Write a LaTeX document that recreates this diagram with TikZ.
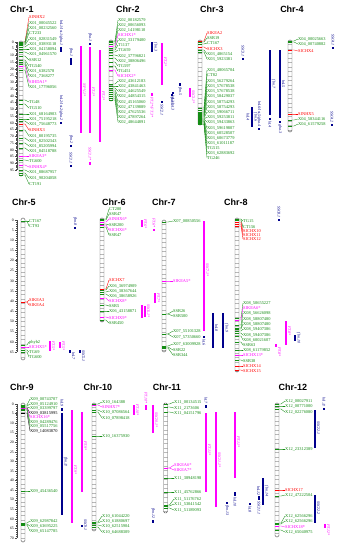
\documentclass[tikz,border=0pt]{standalone}
\usepackage{fontspec}
\setmainfont{Liberation Serif}
\newfontfamily\hfont{Liberation Sans}
\definecolor{gmk}{RGB}{20,140,20}
\definecolor{rmk}{RGB}{255,0,0}
\definecolor{pmk}{RGB}{255,0,255}
\definecolor{bmk}{RGB}{0,0,0}
\definecolor{nv}{RGB}{0,0,140}
\tikzset{
 mk/.style={font=\fontsize{4.4}{4.4}\selectfont, inner sep=0pt, anchor=west},
 ttl/.style={font=\hfont\bfseries\fontsize{9}{9}\selectfont, inner sep=0pt},
 ql/.style={font=\itshape\fontsize{4}{4}\selectfont, inner sep=0pt, rotate=-90},
 qb/.style={line width=1.6pt},
 rl/.style={font=\fontsize{3.8}{3.8}\selectfont, inner sep=0pt, anchor=east},
}
\newcounter{qn}
\newcommand\chrom[3]{%
 \begin{scope}
 \clip[rounded corners=1.5pt] (#1-2,#2) rectangle (#1+2,#3);
 \fill[white] (#1-2,#2) rectangle (#1+2,#3);
 \foreach \k in {1,...,40} \draw[gray!55,line width=0.3pt] (#1-2,{#2+\k*4.5}) -- (#1+2,{#2+\k*4.5});
 \end{scope}
 \draw[gray!70!black,line width=0.45pt,rounded corners=1.5pt] (#1-2,#2) rectangle (#1+2,#3);}
\newcommand\markers[4]{%
 \foreach \ya/\yl/\tx/\cl [count=\i] in {#4} {
  \coordinate (#1a\i) at (#2+2,\ya);
  \coordinate (#1b\i) at (#2+4,\ya);
  \node[mk,text=\cl] (#1l\i) at (#3,\yl) {\tx};
  \draw[\cl,line width=0.35pt] (#2-2,\ya) -- (#1a\i);
  \draw[\cl,line width=0.35pt] (#1a\i) -- (#1b\i) -- (#1l\i.west);
 }}
\newcommand\ruler[5]{%
 \draw[gray!60!black,line width=0.3pt] (#2,#3) -- (#2,{#3+#5*#4});
 \foreach \v in {0,...,#5} \draw[gray!60!black,line width=0.15pt] (#2-1,{#3+\v*#4}) -- (#2,{#3+\v*#4});
 \foreach \v in {0,5,...,#5} {\draw[gray!60!black,line width=0.3pt] (#2-2.5,{#3+\v*#4}) -- (#2,{#3+\v*#4});
  \node[rl] (#1r\v) at (#2-3,{#3+\v*#4}) {\v};}}
% bar + label right
\newcommand\qR[6]{\draw[qb,#4] (#1,#2) -- (#1,#3);\stepcounter{qn}\node[ql,text=#4] (q\theqn) at (#1+3.5,#6) {#5};}
% bar + label above
\newcommand\qA[5]{\draw[qb,#4] (#1,#2) -- (#1,#3);\stepcounter{qn}\node[ql,text=#4,anchor=east] (q\theqn) at (#1,#2-1) {#5};}
% bar + label below
\newcommand\qB[5]{\draw[qb,#4] (#1,#2) -- (#1,#3);\stepcounter{qn}\node[ql,text=#4,anchor=west] (q\theqn) at (#1,#3+1) {#5};}
\newcommand\qlab[4]{\stepcounter{qn}\node[ql,text=#3] (q\theqn) at (#1,#2) {#4};}
\begin{document}
\begin{tikzpicture}[x=1pt,y=-1pt]
\useasboundingbox (0,0) rectangle (340,550);
\fill[white] (0,0) rectangle (340,550);
% titles
\node[ttl] (t1) at (22,9) {Chr-1};
\node[ttl] (t2) at (128,9) {Chr-2};
\node[ttl] (t3) at (212,9) {Chr-3};
\node[ttl] (t4) at (292,9) {Chr-4};
\node[ttl] (t5) at (24,202) {Chr-5};
\node[ttl] (t6) at (114,202) {Chr-6};
\node[ttl] (t7) at (164,202) {Chr-7};
\node[ttl] (t8) at (236,202) {Chr-8};
\node[ttl] (t9) at (22,387) {Chr-9};
\node[ttl] (t10) at (98,387) {Chr-10};
\node[ttl] (t11) at (167,387) {Chr-11};
\node[ttl] (t12) at (293,387) {Chr-12};
% rulers
\ruler{A}{17}{42}{1.347}{95}
\ruler{E}{17}{220}{2.03}{65}
\ruler{I}{17}{404}{1.914}{70}
% chromosomes
\chrom{21}{41}{176}
\chrom{111}{40}{101}
\chrom{200}{40}{125}
\chrom{290}{40}{132}
\chrom{23}{218}{360}
\chrom{102}{218}{322}
\chrom{164}{220}{352}
\chrom{237}{218}{372}
\chrom{23}{403}{542}
\chrom{94}{403}{531}
\chrom{165.5}{403}{513}
\chrom{277}{403}{537}
% markers
\markers{A}{21}{29}{42/17/SINHX2/rmk, 42/23/X01\_00045522/gmk, 43/28/X01\_00232560/gmk, 44/33/CT233/gmk, 45/39/X01\_02831549/gmk, 47/44/X01\_03893118/gmk, 49/49/X01\_04158094/gmk, 52/54/X01\_04961570/gmk, 56/60/SSR12/gmk, 60/66/TG540/gmk, 62/71/X01\_6382578/gmk, 64/76/X01\_7368277/gmk, 66/82/SIHDA1*/pmk, 70/87/X01\_17796056/gmk, 100/102/TG48/gmk, 104/108/TG510/gmk, 114/114/X01\_68164903/gmk, 119/119/X01\_75195218/gmk, 121/124/X01\_75648773/gmk, 124/130/SINHX3/rmk, 130/136/X01\_80195735/gmk, 138/141/X01\_82502343/gmk, 143/146/X01\_85205994/gmk, 148/151/X01\_84518788/gmk, 156/156/SIKEA3*/pmk, 160/161/TG600/gmk, 165/167/SINHX4*/pmk, 170/172/X01\_88687957/gmk, 173/178/X01\_90204058/gmk, 175/184/CT191/gmk}
\markers{B}{111}{118}{41/20/X02\_00182579/gmk, 42/25/X02\_00656093/gmk, 44/30/X02\_14198110/gmk, 46/35/SICHX1*/pmk, 48/40/X02\_33179400/gmk, 50/45/T1137/gmk, 52/50/TG659/gmk, 55/56/X02\_37796821/gmk, 58/61/X02\_38806496/gmk, 62/66/TG597/gmk, 66/71/TG451/gmk, 70/76/SICHX2*/pmk, 84/81/X02\_43612183/gmk, 86/86/X02\_43841463/gmk, 88/91/X02\_44625549/gmk, 90/96/X02\_44854315/gmk, 92/102/X02\_45165060/gmk, 94/107/X02\_47139889/gmk, 96/112/X02\_47625536/gmk, 98/117/X02\_47897264/gmk, 100/122/X02\_48644891/gmk}
\markers{C}{200}{207}{41/33/SIKEA2/rmk, 42/38/SSR19/gmk, 44/43/CT167/gmk, 47/49/SICHX3/rmk, 50/54/X03\_4865154/gmk, 52/59/X03\_5923381/gmk, 108/70/X03\_48065704/gmk, 110/75/CT82/gmk, 112/81/X03\_56279264/gmk, 113/86/X03\_57678538/gmk, 114/91/X03\_57678538/gmk, 115/96/X03\_58429037/gmk, 116/102/X03\_58754293/gmk, 117/107/X03\_58754293/gmk, 118/112/X03\_59066711/gmk, 119/117/X03\_59253811/gmk, 119/122/X03\_59433863/gmk, 120/128/X03\_59619807/gmk, 121/133/X03\_60528507/gmk, 121/138/X03\_60673779/gmk, 122/143/X03\_61011187/gmk, 123/148/TG515/gmk, 124/153/X03\_62883692/gmk, 124.5/158/TG246/gmk}
\markers{D}{290}{298}{41/39/X04\_00025663/gmk, 42/44/X04\_00740882/gmk, 50/51/SICHX4/rmk, 114/114/SINHX5/rmk, 120/119/X04\_58344116/gmk, 126/124/X04\_61579258/gmk}
\markers{E}{23}{29}{221/221/CT167/gmk, 221/226/CT93/gmk, 302/300/SIKEA3/rmk, 302/305/SIKEA4/rmk, 345/342/phyb2/gmk, 347/347/SICHX5*/pmk, 350/352/TG69/gmk, 352/357/TG600/gmk}
\markers{F}{102}{109}{219/209/CT280/gmk, 220/214/SSR47/gmk, 222/219/SINHX6*/pmk, 224/225/SSR200/gmk, 225/230/SICHX6*/pmk, 227/235/SSR47/gmk, 289/280/SICHX7/rmk, 290/286/X06\_36974909/gmk, 292/291/X06\_38367644/gmk, 294/296/X06\_38658926/gmk, 298/301/SICHX8*/pmk, 305/306/SSR5/gmk, 311/311/X06\_43158871/gmk, 317/318/SICHX9*/pmk, 320/323/SSR450/gmk}
\markers{G}{164}{173}{222/221/X07\_00850556/gmk, 281/281/SIKEA5*/pmk, 314/311/SSR26/gmk, 314/316/SSR500/gmk, 334/331/X07\_55101328/gmk, 334/337/X07\_57350660/gmk, 346/344/X07\_63009928/gmk, 347/350/SSR22/gmk, 348/355/SSR344/gmk}
\markers{H}{237}{243}{219/221/TG15/gmk, 220/227/CT156/gmk, 222/231/SICHX10/rmk, 224/235/SICHX11/rmk, 226/239/SICHX12/rmk, 318/303/X08\_50655227/gmk, 320/308/SIKEA6*/pmk, 325/313/X08\_56626098/gmk, 328/319/X08\_58807480/gmk, 329/324/X08\_58807480/gmk, 331/329/X08\_59407386/gmk, 333/335/X08\_59407386/gmk, 336/340/X08\_60021607/gmk, 342/345/SSR63/gmk, 350/350/X08\_61179852/gmk, 355/355/SICHX13*/pmk, 360/361/SSR38/gmk, 366/366/SICHX14/rmk, 370/371/SICHX15/rmk}
\markers{I}{23}{30}{405/399/X09\_00743707/gmk, 406/404/X09\_05124910/gmk, 407/408/X09\_03399797/gmk, 408/413/X09\_03815995/bmk, 408/417/SICHX16*/pmk, 409/422/X09\_04289476/gmk, 410/426/X09\_05517756/gmk, 413/431/X09\_14083870/bmk, 491/491/X09\_45436540/gmk, 523/521/X09\_62987842/gmk, 524/526/X09\_63695225/gmk, 525/531/X09\_65147785/gmk}
\markers{J}{94}{102}{404/402/X10\_164388/gmk, 405/407/SINHX7*/pmk, 410/412/X10\_07086564/gmk, 412/418/X10\_07898418/gmk, 436/436/X10\_16375930/gmk, 522/516/X10\_61044220/gmk, 523/521/X10\_61880697/gmk, 525/526/X10\_62515904/gmk, 527/532/X10\_64688309/gmk}
\markers{K}{165.5}{174}{404/402/X11\_00134515/gmk, 407/408/X11\_2173606/gmk, 412/413/X11\_04151796/gmk, 468/465/SIKEA6*/pmk, 468/470/SIKEA7*/pmk, 478/478/X11\_38948198/gmk, 492/492/X11\_45762866/gmk, 505/499/X11\_51176762/gmk, 506/504/X11\_53041542/gmk, 508/510/X11\_51189093/gmk}
\markers{L}{277}{285}{404/401/X12\_00027911/gmk, 406/406/X12\_00771000/gmk, 409/412/X12\_02276080/gmk, 449/449/X12\_23312389/gmk, 490/490/SICHX17/rmk, 496/495/X12\_47222504/gmk, 523/516/X12\_62566296/gmk, 524/521/X12\_62566296/gmk, 526/527/SICHX18*/pmk, 530/532/X12\_65040975/gmk}
% QTLs Chr-1
\qA{61}{47}{52}{nv}{hsl.1/lst.1/gha.1}
\qA{71}{58}{65}{nv}{fbn.1}
\qR{81}{46}{133}{pmk}{NPV.1*}{90}
\qA{61}{122}{124}{nv}{hsl.2/lst.2/gha.2}
\qA{71}{145}{147}{nv}{fbn.2}
\qA{71}{165}{167}{nv}{SSC1.1}
\qA{90}{43}{45}{nv}{fba.1}
\qR{90}{47}{133}{pmk}{FT.1*}{92}
\qR{100}{50}{142}{pmk}{PT.1*}{96}
\qA{90}{162}{165}{pmk}{SSC1.1*}
% Chr-2
\qR{152}{42}{52}{nv}{fbn.3}{47}
\qR{162}{43}{85}{pmk}{FT.2*}{62}
\qB{152}{93}{96}{pmk}{PT.2*/FT.3*}
\qB{162}{101}{103}{nv}{SSC2.1}
\qB{172}{94}{96}{nv}{fbn.4}
% Chr-3
\qA{243}{58}{60}{nv}{SSC3.1}
\qB{180}{83}{86}{nv}{fbn.5}
\qB{173}{92}{94}{nv}{hsl.3/lst.3}
\qR{190}{88}{97}{pmk}{SSC3.1*}{97}
\qR{252}{107}{127}{nv}{fbn.6}{117}
\qlab{248}{117}{nv}{hsl.4}
% Chr-4
\qR{270}{50}{115}{nv}{fbn.7}{84}
\qR{280}{50}{118}{nv}{hsl.5}{84}
\qB{270}{118}{120}{nv}{lst.4}
\qB{280}{121}{123}{nv}{gha.3}
\qA{259}{128}{130}{nv}{hsl.6/lst.5/gha.4}
\qA{333}{47}{49}{nv}{SSC4.1}
\qA{332}{124}{126}{nv}{SSC4.2}
% Chr-5
\qA{75}{227}{229}{nv}{fbn.8}
\qR{50}{341}{351}{pmk}{FT.5*}{346}
\qR{60}{342}{348}{pmk}{PT.5*}{346}
\qR{70}{350}{353}{nv}{hsl.7}{356}
\qR{80}{350}{353}{nv}{SSC5.1}{356}
% Chr-6
\qR{142}{220}{227}{pmk}{PT.6*}{224}
\qA{154}{229}{231}{pmk}{FT.6*}
\qR{155}{293}{303}{pmk}{PT.7*}{298}
\draw[qb,pmk] (142,305) -- (142,318);
\qR{145}{306}{317}{pmk}{SSC6.1*}{311}
% Chr-7
\qR{204}{221}{331}{pmk}{SSC7.1*}{270}
\qR{213}{313}{348}{nv}{hsl.8}{328}
\qR{223}{313}{348}{nv}{fbn.9}{328}
\qB{204}{336}{338}{nv}{lst.6}
% Chr-8
\qA{279}{219}{221}{nv}{SSC8.1}
\qR{286}{321}{345}{pmk}{FT.8*}{331}
\qR{295}{335}{341}{nv}{fbn.10}{338}
\qR{276}{344}{347}{pmk}{PT.8*}{352}
% Chr-9
\qA{62}{408}{411}{nv}{hsl.9}
\qR{62}{413}{515}{nv}{fbn.11}{462}
\qR{72}{410}{523}{pmk}{FT.9*}{470}
\qR{82}{412}{492}{pmk}{PT.9*}{446}
\qR{82}{525}{527}{nv}{SSC9.1}{525}
% Chr-10
\qR{134}{405}{415}{pmk}{FT.10*}{410}
\qA{146}{405}{410}{pmk}{PT.10*}
\qR{153}{405}{433}{pmk}{SSC10.1*}{420}
\qA{153}{520}{523}{nv}{fbn.12}
% Chr-11
\qA{206}{405}{408}{nv}{lst.7}
\qR{206}{413}{492}{pmk}{FT.11*}{450}
\qR{216}{412}{507}{pmk}{SSC11.1*}{460}
\qR{235}{412}{478}{pmk}{PT.11*}{442}
\qB{227}{502}{504}{nv}{fbn.13}
\qB{235}{492}{496}{nv}{hsl.10}
\qB{250}{503}{505}{nv}{lst.8}
\qB{259}{496}{500}{nv}{SSC11.1}
% Chr-12
\qR{315}{410}{448}{nv}{SSC12.1}{428}
\qA{324}{408}{410}{nv}{hsl.11}
\qR{263}{478}{505}{nv}{fbn.14}{491}
\qlab{258.5}{491}{nv}{hsl.12}
\qR{315}{495}{523}{nv}{SSC12.2}{508}
\qR{325}{524}{528}{pmk}{PT.12*}{530}
\end{tikzpicture}
\end{document}
